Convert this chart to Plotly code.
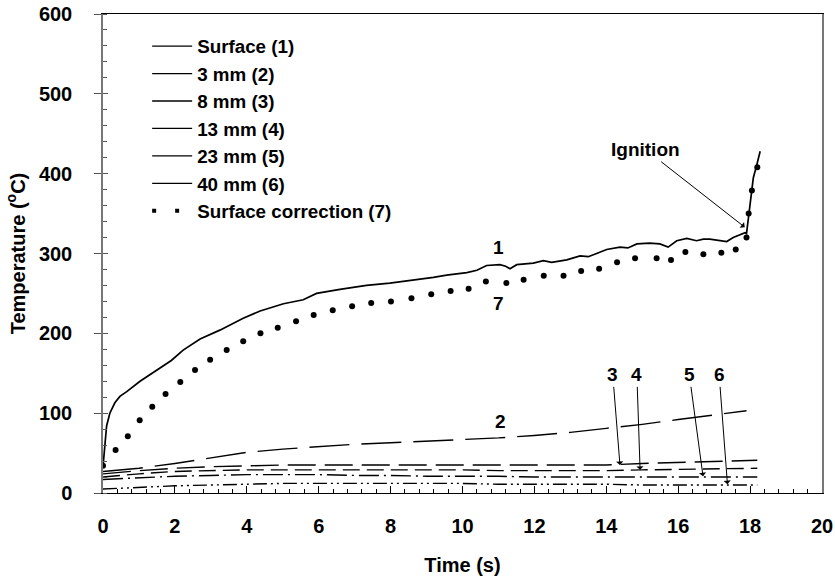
import plotly.graph_objects as go

# ---------------- data ----------------
surf_t = [0, 0.05, 0.1, 0.19, 0.33, 0.47, 0.66, 1.03, 1.3, 1.59, 1.9, 2.23, 2.7, 3.25, 3.9,
          4.37, 5.02, 5.57, 5.94, 6.59, 7.33, 7.98, 8.54, 9.19, 9.56, 10.12, 10.4, 10.67,
          11.04, 11.2, 11.32, 11.51, 11.97, 12.25, 12.48, 12.9, 13.27, 13.5, 13.73, 14.01,
          14.38, 14.6, 14.85, 15.2, 15.49, 15.72, 15.96, 16.24, 16.51, 16.7, 16.88, 17.1,
          17.35, 17.53, 17.86, 17.9, 18.0, 18.09, 18.18, 18.28]
surf_v = [33, 60, 84, 100, 113, 121, 127, 140, 148, 156, 166, 179, 193, 204, 219,
          228, 237, 242, 250, 255, 260, 263, 266, 270, 273, 276, 279, 285,
          286, 284, 281, 286, 288, 291, 289, 292, 297, 296, 300, 305,
          308, 307, 312, 313, 312, 308, 316, 319, 316, 318, 318, 317,
          315, 320, 326, 325, 366, 395, 410, 428]

corr_t = [0, 0.35, 0.69, 1.02, 1.37, 1.74, 2.15, 2.56, 2.98, 3.44, 3.90, 4.38, 4.86, 5.37,
          5.86, 6.39, 6.93, 7.46, 8.01, 8.58, 9.13, 9.67, 10.17, 10.65, 11.22, 11.70, 12.26,
          12.81, 13.3, 13.8, 14.3, 14.8, 15.4, 15.8, 16.2, 16.7, 17.2, 17.6, 17.9, 17.96,
          18.05, 18.2]
corr_v = [34, 54, 71, 91, 108, 124, 139, 154, 167, 179, 190, 200, 207, 215,
          223, 229, 234, 238, 240, 244, 249, 253, 256, 265, 263, 267, 272,
          272, 278, 281, 289, 294, 294, 292, 302, 299, 301, 305, 320, 350,
          379, 408]

mm3_t = [0, 1, 2, 3, 4, 5, 6, 7, 8, 9, 10, 11, 12, 13, 14, 15, 16, 17, 17.9]
mm3_v = [27, 31, 37, 44, 51, 55, 58, 61, 63, 65, 67, 69, 72, 76, 81, 86, 92, 98, 103]

deep_t = [0, 1, 2, 3, 4, 5, 6, 7, 8, 9, 10, 11, 12, 13, 14, 15, 16, 17, 18.2]
mm8_v = [24, 28, 31, 33, 34, 35, 35, 35, 35, 35, 35, 35, 35, 35, 35, 37, 38.5, 40, 41]
mm13_v = [20, 24, 27, 28, 29, 29, 29, 29, 29, 29, 29, 28, 28, 28, 28, 29, 29.5, 30.5, 31]
mm23_v = [17, 19, 21, 22, 23, 23, 23, 22, 22, 21, 21, 21, 20, 20, 20, 20, 20, 20, 20]
mm40_v = [5, 7, 9, 10, 11, 12, 12, 12, 12, 12, 12, 11, 11, 11, 11, 10, 10, 10, 10]

legend_names = ["Surface (1)", "3 mm (2)", "8 mm (3)", "13 mm (4)", "23 mm (5)",
                "40 mm (6)", "Surface correction (7)"]

x_ticks = [0, 2, 4, 6, 8, 10, 12, 14, 16, 18, 20]
y_ticks = [0, 100, 200, 300, 400, 500, 600]

# ---------------- figure ----------------
FONT = "Liberation Sans, Arial, sans-serif"
fig = go.Figure()

fig.add_trace(go.Scatter(x=surf_t, y=surf_v, mode="lines", showlegend=False,
                         line=dict(color="black", width=1.7)))
fig.add_trace(go.Scatter(x=mm3_t, y=mm3_v, mode="lines", showlegend=False,
                         line=dict(color="black", width=1.4, dash="40px,12px")))
fig.add_trace(go.Scatter(x=deep_t, y=mm8_v, mode="lines", showlegend=False,
                         line=dict(color="black", width=1.4, dash="28px,9px")))
fig.add_trace(go.Scatter(x=deep_t, y=mm13_v, mode="lines", showlegend=False,
                         line=dict(color="black", width=1.4, dash="17px,7px")))
fig.add_trace(go.Scatter(x=deep_t, y=mm23_v, mode="lines", showlegend=False,
                         line=dict(color="black", width=1.4, dash="20px,5px,2px,5px")))
fig.add_trace(go.Scatter(x=deep_t, y=mm40_v, mode="lines", showlegend=False,
                         line=dict(color="black", width=1.4, dash="14px,4px,2px,4px,2px,4px")))
fig.add_trace(go.Scatter(x=corr_t, y=corr_v, mode="markers", showlegend=False,
                         marker=dict(color="black", size=6)))

# legend entries (drawn as plain solid lines, like the reference legend)
for i, nm in enumerate(legend_names):
    if i < 6:
        fig.add_trace(go.Scatter(x=[None], y=[None], mode="lines", name=nm, yaxis="y2",
                                 line=dict(color="black", width=1.3)))
    else:
        fig.add_trace(go.Scatter(x=[None], y=[None], mode="lines", name=nm, yaxis="y2",
                                 line=dict(color="black", width=4, dash="4px,19px")))

tickfont = dict(family=FONT, size=20, color="black", weight="bold")
titlefont = dict(family=FONT, size=20, color="black", weight="bold")

fig.update_layout(
    width=835, height=580,
    margin=dict(l=103, r=13, t=14, b=87),
    paper_bgcolor="white", plot_bgcolor="white",
    font=dict(family=FONT, color="black"),
    xaxis=dict(range=[0, 20], tickvals=x_ticks, ticks="inside", ticklen=7, tickwidth=1,
               tickcolor="black", showline=True, linecolor="black", linewidth=1,
               mirror=True, showgrid=False, zeroline=False, tickfont=tickfont,
               ticklabelstandoff=15, automargin=False,
               minor=dict(dtick=0.4, ticks="inside", ticklen=4, tickcolor="black"),
               title=dict(text="Time (s)", font=titlefont, standoff=21)),
    yaxis=dict(range=[0, 600], tickvals=y_ticks, ticks="outside", ticklen=7, tickwidth=1,
               tickcolor="#555", showline=True, linecolor="#777", linewidth=1.5,
               mirror=True, showgrid=False, zeroline=False, tickfont=tickfont,
               ticklabelstandoff=18, automargin=False,
               minor=dict(dtick=20, ticks="inside", ticklen=4, tickcolor="#555"),
               title=dict(text="Temperature (<sup>o</sup>C)", font=titlefont, standoff=8)),
    yaxis2=dict(range=[0, 600], overlaying="y", side="left", tickvals=y_ticks,
                ticks="inside", ticklen=5, tickcolor="#555", showticklabels=False,
                showline=False, showgrid=False, zeroline=False, automargin=False),
    legend=dict(x=0.0614, y=0.972, xanchor="left", yanchor="top", bgcolor="rgba(0,0,0,0)",
                font=dict(family=FONT, size=18.8, color="black", weight="bold"),
                itemwidth=40, tracegroupgap=0),
)

afont = dict(family=FONT, size=19, color="black", weight="bold")
# curve labels
for txt, tx, ty in [("1", 11.0, 308), ("7", 11.0, 238), ("2", 11.05, 89)]:
    fig.add_annotation(x=tx, y=ty, text=txt, showarrow=False, font=afont)

# arrows with labels
arrows = [("Ignition", 15.1, 430, 17.85, 333),
          ("3", 14.18, 148, 14.38, 35),
          ("4", 14.85, 148, 14.94, 29),
          ("5", 16.31, 148, 16.69, 21),
          ("6", 17.14, 148, 17.37, 11)]
for txt, lx, ly, hx, hy in arrows:
    fig.add_annotation(x=hx, y=hy, ax=lx, ay=ly, axref="x", ayref="y", text=txt,
                       showarrow=True, arrowhead=1, arrowsize=1.2, arrowwidth=1,
                       arrowcolor="black", font=afont)

fig.write_html("out.html")
